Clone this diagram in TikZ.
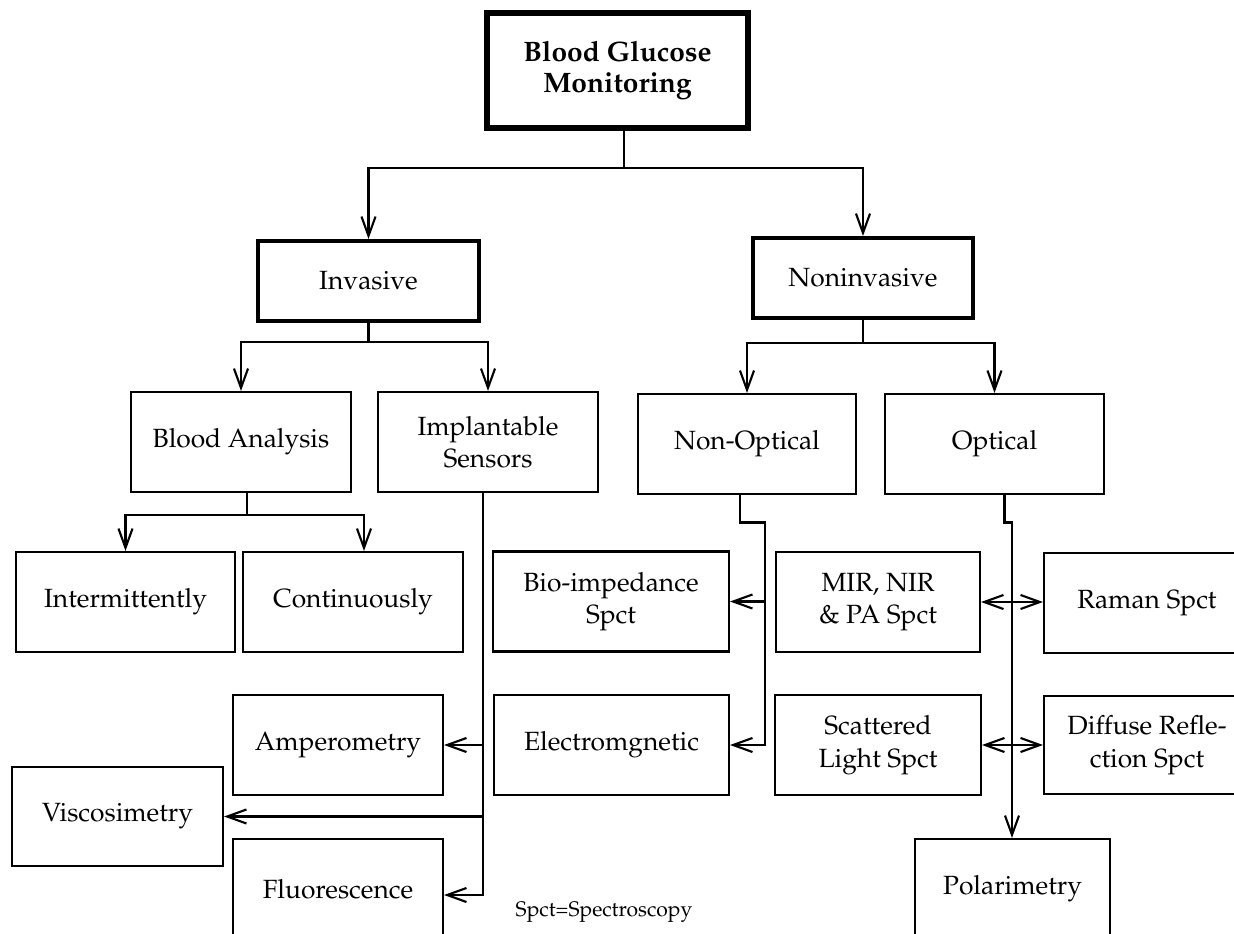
\documentclass[tikz,border=0pt]{standalone}
\usepackage[T1]{fontenc}
\usepackage{mathpazo}
\usepackage{tikz}
\usetikzlibrary{positioning, calc, arrows.meta}

\begin{document}
\begin{tikzpicture}[every node/.style={font=\fontsize{15}{18.5}\selectfont},
                    box/.style={draw,
                                line width=1.2pt,
                                minimum width=4.4cm,
                                minimum height=2cm,
                                inner sep=0pt,
                                align=center},
                    mainbox/.style={box,
                                    line width=2.3pt,
                                    minimum height=1.6cm},
                    conn/.style={draw,
                                 line width=1.2pt},
                    >={Straight Barb[length=11pt,width=8pt]}]
	\useasboundingbox (0,0) rectangle (24.68,-18.68);
	\node [box, line width=3pt, minimum width=5.22cm, minimum height=2.3cm, font=\fontsize{16}{17.8}\selectfont\bfseries] (bgm) at (12.35,-1.41) {Blood Glucose\\Monitoring};
	\node [mainbox, minimum width=4.42cm] (invasive) at (7.37,-5.62) {Invasive};
	\node [mainbox] (noninvasive) at (17.26,-5.56) {Noninvasive};

	\node [box] (blood) at (4.82,-8.84) {Blood Analysis};
	\node [box] (implant) at (9.76,-8.84) {Implantable\\Sensors};
	\node [box, minimum width=4.36cm] (nonoptical) at (14.94,-8.88) {Non-Optical};
	\node [box, minimum width=4.38cm] (optical) at (19.89,-8.88) {Optical};

	\node [box, minimum width=4.38cm] (intermit) at (2.51,-12.04) {Intermittently};
	\node [box] (contin) at (7.06,-12.04) {Continuously};
	\node [box, minimum width=4.72cm] (bioimp) at (12.22,-12.03) {Bio-impedance\\Spct};
	\node [box, minimum width=4.08cm] (mir) at (17.56,-12.04) {MIR, NIR\\\& PA Spct};
	\node [box, minimum width=4.12cm] (raman) at (22.94,-12.06) {Raman Spct};

	\node [box, minimum width=4.2cm] (ampero) at (6.76,-14.9) {Amperometry};
	\node [box, minimum width=4.7cm] (electro) at (12.23,-14.9) {Electromgnetic};
	\node [box, minimum width=4.12cm] (scatter) at (17.56,-14.9) {Scattered\\Light Spct};
	\node [box, minimum width=4.12cm, minimum height=1.96cm] (diffuse) at (22.94,-14.9) {Diffuse Refle-\\ction Spct};
	\node [box, minimum width=4.22cm, minimum height=1.98cm] (visco) at (2.35,-16.33) {Viscosimetry};
	\node [box, minimum width=4.2cm] (fluor) at (6.76,-17.78) {Fluorescence};
	\node [box, minimum width=3.9cm] (polar) at (20.25,-17.78) {Polarimetry};
	\node [font=\fontsize{12}{14}\selectfont] (note) at (12.08,-18.24) {Spct=Spectroscopy};

	\coordinate (topjoin) at (12.48,-3.36);
	\draw [conn] (bgm.south -| topjoin) -- (topjoin);
	\draw [conn,->] (topjoin) -| (invasive.north);
	\draw [conn,->] (topjoin) -| (noninvasive.north);

	\draw [conn] (invasive.south) -- ++(0,-0.38) coordinate (invjoin);
	\draw [conn,->] (invjoin) -| (blood.north);
	\draw [conn,->] (invjoin) -| (implant.north);
	\draw [conn] (noninvasive.south) -- ++(0,-0.46) coordinate (noninvjoin);
	\draw [conn,->] (noninvjoin) -| (nonoptical.north);
	\draw [conn,->] (noninvjoin) -| (optical.north);

	\draw [conn] ([xshift=0.12cm]blood.south) -- ++(0,-0.44) coordinate (bloodjoin);
	\draw [conn,->] (bloodjoin) -| (intermit.north);
	\draw [conn,->] (bloodjoin) -| ([xshift=0.22cm]contin.north);

	\coordinate (implx) at ([xshift=-0.1cm]implant.south);
	\draw [conn,->] (implx) |- ([yshift=-0.12cm]fluor.east);
	\draw [conn,->] (ampero.east -| implx) -- (ampero.east);
	\draw [conn,->] (visco.east -| implx) -- (visco.east);

	\coordinate (nonoptstep) at (15.3,-10.45);
	\draw [conn,->] ([xshift=-0.14cm]nonoptical.south) |- (nonoptstep) |- (electro.east);
	\draw [conn,->] (bioimp.east -| nonoptstep) -- (bioimp.east);

	\coordinate (optstep) at (20.24,-10.45);
	\draw [conn,->] ([xshift=0.2cm]optical.south) |- (optstep) -- (optstep |- polar.north);
	\draw [conn,<->] (mir.east) -- (mir.east -| raman.west);
	\draw [conn,<->] (scatter.east) -- (scatter.east -| diffuse.west);
\end{tikzpicture}
\end{document}
